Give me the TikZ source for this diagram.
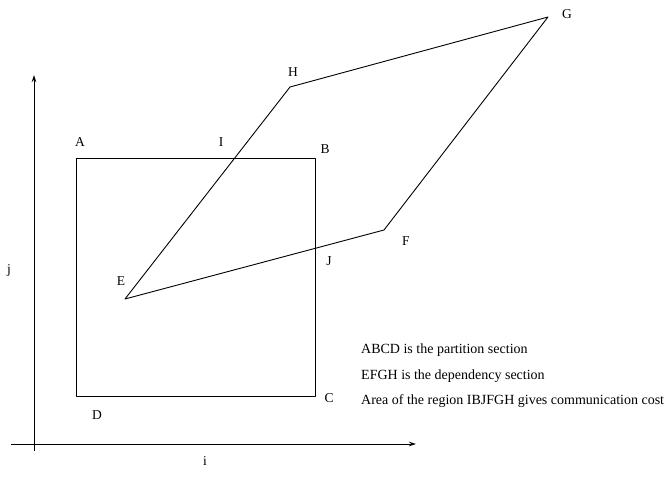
\documentclass[tikz,border=0pt]{standalone}
\usepackage{fontspec}
\setmainfont{Liberation Serif}
\usetikzlibrary{arrows.meta}
\begin{document}
\begin{tikzpicture}[x=1pt,y=-1pt,
  edge/.style={draw=black,line width=0.9pt,line join=round},
  axis/.style={draw=black,line width=0.9pt,-{Stealth[length=7pt,width=4.5pt]}},
  lbl/.style={font=\fontsize{13.5}{15}\selectfont,inner sep=0pt},
  note/.style={font=\fontsize{14}{16}\selectfont,inner sep=0pt,anchor=west}]
\useasboundingbox (0,0) rectangle (670,479);
% corners
\coordinate (A) at (76,158);
\coordinate (B) at (315,158);
\coordinate (C) at (315,396);
\coordinate (D) at (76,396);
\coordinate (E) at (125,299);
\coordinate (F) at (384,230);
\coordinate (G) at (548,17);
\coordinate (H) at (290,87);
% axes
\coordinate (ox) at (11,444);
\coordinate (ix) at (416,444);
\coordinate (oy) at (34,451);
\coordinate (jy) at (34,75);
\draw[axis] (ox) -- (ix);
\draw[axis] (oy) -- (jy);
% shapes
\draw[edge] (A) -- (B) -- (C) -- (D) -- cycle;
\draw[edge] (E) -- (F) -- (G) -- (H) -- cycle;
% labels
\node[lbl] (lA) at (80,142) {A};
\node[lbl] (lB) at (325,149) {B};
\node[lbl] (lC) at (329,398) {C};
\node[lbl] (lD) at (97,415) {D};
\node[lbl] (lE) at (121,281) {E};
\node[lbl] (lF) at (406,241) {F};
\node[lbl] (lG) at (567,14) {G};
\node[lbl] (lH) at (293,72) {H};
\node[lbl] (lI) at (221,142) {I};
\node[lbl] (lJ) at (329,261) {J};
\node[lbl] (lj) at (9,270) {j};
\node[lbl] (li) at (205,461) {i};
% notes
\node[note] (n1) at (361,350) {ABCD is the partition section};
\node[note] (n2) at (361,376) {EFGH is the dependency section};
\node[note] (n3) at (361,401) {Area of the region IBJFGH gives communication cost};
\end{tikzpicture}
\end{document}
